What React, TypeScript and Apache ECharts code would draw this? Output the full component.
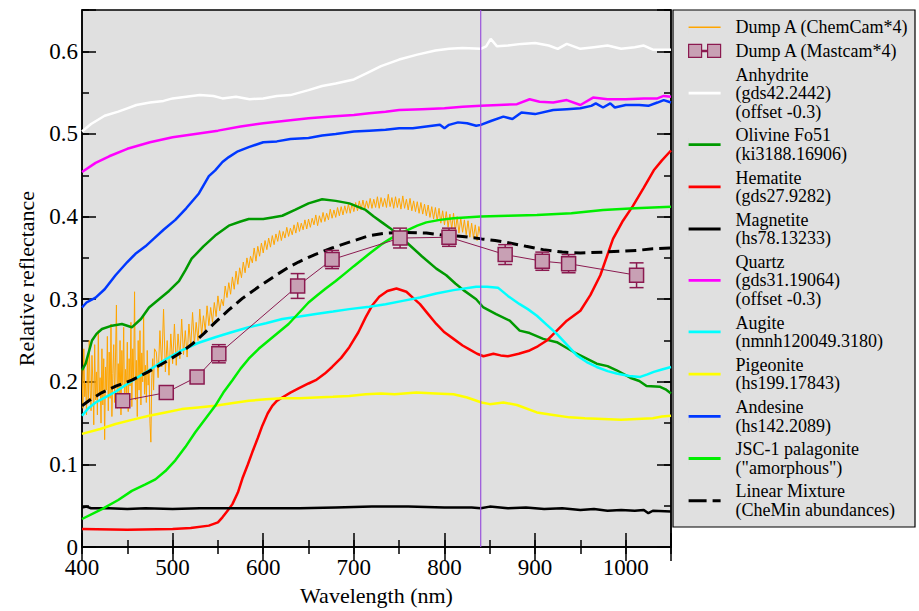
import React, { useEffect, useRef } from 'react';
import * as echarts from 'echarts';

const FONT = "'Liberation Serif'";

// ---- Data (wavelength nm, relative reflectance) ----
// ChemCam spectrum, sampled on regular wavelength grids (start, step, values)
const chemcamSegA = { start: 400, step: 1, values: [
  0.215,0.168,0.240,0.182,0.198,0.160,0.228,0.175,0.250,0.190,
  0.165,0.232,0.200,0.148,0.245,0.178,0.212,0.160,0.262,0.185,
  0.205,0.150,0.240,0.172,0.228,0.130,0.218,0.190,0.255,0.165,
  0.236,0.180,0.270,0.158,0.210,0.245,0.175,0.230,0.293,0.168,
  0.222,0.180,0.250,0.160,0.238,0.196,0.266,0.172,0.215,0.185,
  0.248,0.164,0.228,0.195,0.272,0.170,0.240,0.205,0.309,0.178,
  0.226,0.158,0.250,0.190,0.262,0.172,0.235,0.200,0.280,0.185,
  0.220,0.175,0.238,0.196,0.214,0.150,0.127,0.205,0.228,0.190,
  0.240,
] };
const chemcamSegB = { start: 482, step: 2, values: [
  0.236,0.205,0.262,0.218,0.288,0.212,0.250,0.208,0.258,0.222,
  0.270,0.220,0.258,0.228,0.276,0.233,0.262,0.230,0.270,0.242,
  0.284,0.246,0.272,0.250,0.288,0.256,0.280,0.262,0.292,0.268,
] };
const chemcamSegC = { start: 542, step: 2, values: [
  0.290,0.272,0.296,0.279,0.304,0.286,0.300,0.292,0.316,0.302,
  0.320,0.306,0.327,0.312,0.334,0.318,0.338,0.326,0.345,0.332,
  0.350,0.338,0.352,0.344,0.362,0.346,0.364,0.352,0.368,0.356,
  0.371,0.360,0.374,0.363,0.377,0.366,0.379,0.370,0.383,0.371,
  0.382,0.374,0.387,0.376,0.386,0.378,0.390,0.380,0.393,0.382,
  0.392,0.384,0.396,0.385,0.397,0.387,0.398,0.390,0.402,0.389,
  0.401,0.393,0.405,0.394,0.404,0.396,0.409,0.398,0.408,0.399,
  0.411,0.401,0.412,0.402,0.413,0.404,0.415,0.404,0.416,0.406,
  0.417,0.407,0.419,0.408,0.420,0.409,0.419,0.410,0.422,0.410,
  0.421,0.411,0.424,0.410,0.423,0.412,0.422,0.411,0.427,0.412,
  0.423,0.410,0.424,0.411,0.422,0.409,0.425,0.410,0.421,0.408,
  0.422,0.407,0.419,0.406,0.418,0.404,0.417,0.403,0.415,0.401,
  0.414,0.399,0.412,0.397,0.411,0.395,0.410,0.392,0.407,0.390,
  0.406,0.387,0.403,0.385,0.404,0.382,0.400,0.380,0.398,0.381,
  0.396,0.378,0.395,0.375,0.392,0.374,0.390,0.371,0.388,0.376,
] };

const mastcamWl = [445, 493, 527, 551, 638, 676, 751, 805, 867, 908, 937, 1012];
const mastcamR = [0.177, 0.187, 0.206, 0.234, 0.316, 0.348, 0.374, 0.375, 0.354, 0.346, 0.343, 0.329];
const mastcamErr = [0.006, 0.007, 0.007, 0.011, 0.015, 0.011, 0.012, 0.011, 0.012, 0.011, 0.011, 0.015];

const anhydrite: number[][] = [
  [400,0.503],[410,0.512],[425,0.522],[440,0.527],[450,0.531],[460,0.535],[475,0.538],[490,0.540],[500,0.543],[515,0.545],
  [530,0.547],[545,0.546],[555,0.543],[570,0.545],[585,0.542],[600,0.543],[615,0.546],[630,0.547],[650,0.553],[665,0.558],
  [680,0.561],[700,0.566],[715,0.574],[730,0.582],[750,0.590],[770,0.596],[790,0.601],[805,0.603],[820,0.604],[840,0.603],
  [846,0.606],[851,0.615],[858,0.606],[870,0.607],[885,0.609],[900,0.610],[915,0.607],[925,0.603],[935,0.609],[950,0.603],
  [965,0.605],[980,0.607],[995,0.603],[1010,0.605],[1020,0.607],[1030,0.602],[1050,0.602]
];

const quartz: number[][] = [
  [400,0.454],[415,0.465],[430,0.473],[450,0.482],[475,0.490],[500,0.496],[525,0.500],[550,0.504],[575,0.509],[600,0.513],
  [625,0.516],[650,0.519],[675,0.521],[700,0.523],[717,0.525],[735,0.527],[750,0.529],[775,0.530],[800,0.531],[820,0.533],
  [840,0.534],[860,0.535],[880,0.536],[894,0.542],[905,0.539],[920,0.538],[935,0.541],[950,0.535],[964,0.544],[980,0.542],
  [1000,0.542],[1020,0.543],[1035,0.543],[1042,0.546],[1050,0.545]
];

const andesine: number[][] = [
  [400,0.290],[405,0.296],[415,0.302],[425,0.312],[437,0.329],[450,0.345],[459,0.355],[470,0.364],[479,0.373],[490,0.384],
  [503,0.396],[515,0.410],[529,0.428],[540,0.449],[547,0.456],[555,0.466],[562,0.472],[572,0.479],[584,0.484],[600,0.490],
  [615,0.491],[630,0.494],[650,0.495],[665,0.498],[680,0.500],[700,0.503],[717,0.504],[735,0.505],[750,0.507],[765,0.507],
  [780,0.509],[795,0.511],[800,0.507],[805,0.511],[815,0.514],[825,0.513],[835,0.510],[840,0.511],[852,0.516],[865,0.521],
  [875,0.518],[885,0.526],[900,0.524],[920,0.529],[935,0.530],[950,0.531],[962,0.534],[967,0.537],[975,0.532],[983,0.537],
  [988,0.532],[1000,0.535],[1015,0.535],[1025,0.534],[1035,0.538],[1042,0.541],[1050,0.538]
];

const olivine: number[][] = [
  [400,0.214],[404,0.222],[411,0.250],[416,0.258],[422,0.264],[433,0.268],[444,0.270],[455,0.266],[465,0.276],[474,0.290],
  [485,0.300],[496,0.310],[507,0.322],[514,0.335],[521,0.349],[534,0.364],[547,0.377],[562,0.389],[575,0.394],[584,0.397],
  [600,0.397],[610,0.399],[621,0.401],[635,0.408],[650,0.416],[665,0.421],[680,0.419],[695,0.416],[713,0.408],[722,0.400],
  [731,0.393],[740,0.386],[750,0.377],[762,0.365],[775,0.352],[791,0.337],[802,0.329],[812,0.319],[821,0.311],[835,0.300],
  [843,0.290],[857,0.282],[872,0.274],[883,0.262],[894,0.259],[909,0.252],[924,0.248],[935,0.241],[946,0.234],[957,0.228],
  [968,0.222],[980,0.219],[990,0.214],[1005,0.205],[1015,0.201],[1023,0.195],[1038,0.194],[1044,0.191],[1050,0.186]
];

const hematite: number[][] = [
  [400,0.022],[450,0.021],[500,0.022],[520,0.023],[540,0.026],[550,0.030],[555,0.036],[560,0.043],[566,0.052],[572,0.066],
  [577,0.083],[583,0.100],[588,0.115],[594,0.132],[599,0.147],[605,0.162],[610,0.171],[615,0.177],[621,0.181],[630,0.187],
  [639,0.192],[650,0.198],[658,0.202],[668,0.210],[676,0.218],[686,0.229],[695,0.242],[705,0.260],[713,0.278],[720,0.292],
  [728,0.303],[737,0.310],[747,0.313],[758,0.309],[765,0.302],[773,0.294],[782,0.282],[791,0.270],[800,0.260],[810,0.252],
  [820,0.244],[828,0.239],[836,0.234],[843,0.231],[854,0.234],[862,0.232],[870,0.231],[882,0.234],[894,0.238],[903,0.243],
  [913,0.250],[924,0.262],[935,0.274],[950,0.286],[961,0.305],[972,0.329],[986,0.373],[997,0.395],[1008,0.413],[1020,0.435],
  [1031,0.456],[1040,0.468],[1050,0.480]
];

const magnetite: number[][] = [
  [400,0.048],[405,0.049],[410,0.047],[430,0.047],[450,0.046],[470,0.047],[500,0.046],[530,0.047],[560,0.047],[600,0.047],
  [640,0.047],[680,0.048],[720,0.049],[760,0.049],[800,0.048],[830,0.048],[840,0.047],[850,0.049],[870,0.047],[890,0.048],
  [910,0.046],[930,0.047],[950,0.045],[965,0.046],[980,0.044],[995,0.045],[1010,0.044],[1020,0.045],[1025,0.041],[1030,0.044],
  [1050,0.043]
];

const palagonite: number[][] = [
  [400,0.034],[422,0.046],[440,0.057],[455,0.068],[470,0.076],[481,0.082],[492,0.092],[503,0.105],[514,0.121],[525,0.139],
  [536,0.155],[547,0.171],[556,0.187],[566,0.202],[575,0.216],[584,0.228],[595,0.240],[606,0.250],[617,0.260],[628,0.270],
  [639,0.283],[650,0.296],[660,0.305],[669,0.313],[680,0.322],[690,0.331],[700,0.340],[717,0.355],[730,0.366],[740,0.373],
  [750,0.379],[758,0.383],[770,0.389],[780,0.393],[795,0.396],[810,0.398],[840,0.400],[870,0.401],[902,0.402],[940,0.404],
  [975,0.408],[1010,0.410],[1050,0.412]
];

const augite: number[][] = [
  [400,0.159],[407,0.168],[415,0.175],[425,0.181],[437,0.188],[455,0.201],[474,0.214],[492,0.227],[510,0.238],[528,0.247],
  [547,0.254],[565,0.260],[584,0.266],[603,0.271],[621,0.276],[640,0.279],[658,0.282],[677,0.285],[695,0.288],[717,0.291],
  [735,0.294],[754,0.298],[773,0.302],[791,0.307],[810,0.311],[835,0.315],[847,0.315],[859,0.314],[870,0.304],[883,0.294],
  [892,0.288],[902,0.280],[913,0.269],[924,0.258],[935,0.245],[946,0.232],[957,0.224],[968,0.218],[980,0.213],[990,0.210],
  [1004,0.207],[1016,0.206],[1024,0.209],[1031,0.212],[1040,0.215],[1050,0.218]
];

const pigeonite: number[][] = [
  [400,0.137],[420,0.143],[437,0.149],[455,0.154],[474,0.159],[492,0.163],[510,0.167],[528,0.169],[547,0.171],[565,0.174],
  [584,0.177],[603,0.179],[621,0.180],[640,0.180],[658,0.181],[677,0.182],[695,0.183],[713,0.185],[730,0.186],[745,0.185],
  [769,0.187],[790,0.186],[810,0.185],[825,0.181],[841,0.175],[850,0.173],[865,0.175],[880,0.172],[902,0.163],[920,0.160],
  [938,0.157],[955,0.156],[975,0.155],[995,0.154],[1012,0.155],[1030,0.156],[1040,0.158],[1050,0.159]
];

const linearMix: number[][] = [
  [400,0.171],[410,0.179],[422,0.187],[438,0.195],[455,0.202],[473,0.212],[492,0.224],[507,0.234],[522,0.246],[535,0.259],
  [547,0.272],[562,0.287],[577,0.301],[595,0.315],[614,0.329],[627,0.338],[639,0.345],[657,0.354],[676,0.362],[695,0.369],
  [717,0.377],[735,0.380],[754,0.381],[780,0.380],[802,0.377],[820,0.376],[841,0.373],[856,0.371],[872,0.368],[890,0.364],
  [909,0.360],[930,0.357],[950,0.356],[975,0.357],[995,0.358],[1012,0.359],[1030,0.361],[1050,0.362]
];

const detectorBoundary = 840;

const legendNames = [
  'Dump A (ChemCam*4)',
  'Dump A (Mastcam*4)',
  'Anhydrite\n(gds42.2442)\n(offset -0.3)',
  'Olivine Fo51\n(ki3188.16906)',
  'Hematite\n(gds27.9282)',
  'Magnetite\n(hs78.13233)',
  'Quartz\n(gds31.19064)\n(offset -0.3)',
  'Augite\n(nmnh120049.3180)',
  'Pigeonite\n(hs199.17843)',
  'Andesine\n(hs142.2089)',
  'JSC-1 palagonite\n("amorphous")',
  'Linear Mixture\n(CheMin abundances)',
];

const spectra = [
  { name: legendNames[2], color: '#ffffff', data: anhydrite },
  { name: legendNames[3], color: '#009a00', data: olivine },
  { name: legendNames[4], color: '#ff0000', data: hematite },
  { name: legendNames[5], color: '#000000', data: magnetite },
  { name: legendNames[6], color: '#ff00ff', data: quartz },
  { name: legendNames[7], color: '#00ffff', data: augite },
  { name: legendNames[8], color: '#ffff00', data: pigeonite },
  { name: legendNames[9], color: '#0038ff', data: andesine },
  { name: legendNames[10], color: '#00ee00', data: palagonite },
];

const MAROON = '#8b1a50';
const SQUARE_FILL = '#c8a0b4';

const segToPairs = (seg: { start: number; step: number; values: number[] }) =>
  seg.values.map((v, i) => [seg.start + i * seg.step, v]);

const LINE_ICON = 'path://M0,0h0.01v14h-0.01z M0,5.6h32v2.8h-32z';
const THIN_ICON = 'path://M0,0h0.01v14h-0.01z M0,6.3h32v1.4h-32z';
const DASH_ICON = 'path://M0,0h0.01v14h-0.01z M0,5.5h18v3h-18z M24,5.5h8v3h-8z';
const SQUARES_ICON = 'path://M0,0.5h13v13h-13z M19,0.5h13v13h-13z M13,6.4h6v1.2h-6z';

export default function App() {
  const ref = useRef<HTMLDivElement>(null);
  useEffect(() => {
    if (!ref.current) return;
    const chart = echarts.init(ref.current, undefined, { renderer: 'svg' });

    const chemcam = [...segToPairs(chemcamSegA), ...segToPairs(chemcamSegB), ...segToPairs(chemcamSegC)];

    const axisBase = (pos: string, interval: number, len: number, major: boolean, isX: boolean) => ({
      type: 'value',
      position: pos,
      min: isX ? 400 : 0,
      max: isX ? 1050 : 0.65,
      interval,
      axisLine: { show: major, lineStyle: { color: '#000', width: 1.5 } },
      axisTick: { show: true, inside: true, length: len, lineStyle: { color: '#000', width: 1.5 } },
      axisLabel: { show: false },
      splitLine: { show: false },
    });

    const xMain: any = {
      ...axisBase('bottom', 100, 14, true, true),
      name: 'Wavelength (nm)',
      nameLocation: 'middle',
      nameGap: 29,
      nameTextStyle: { fontFamily: FONT, fontSize: 22, color: '#000' },
      axisLabel: {
        show: true, fontFamily: FONT, fontSize: 23, color: '#000', margin: 9,
        formatter: (v: number) => (v % 100 === 0 ? String(v) : ''),
      },
    };
    const yMain: any = {
      ...axisBase('left', 0.1, 14, true, false),
      name: 'Relative reflectance',
      nameLocation: 'middle',
      nameGap: 45,
      nameTextStyle: { fontFamily: FONT, fontSize: 22, color: '#000' },
      axisLabel: {
        show: true, fontFamily: FONT, fontSize: 23, color: '#000', margin: 4,
        formatter: (v: number) => {
          const t = Math.round(v * 10);
          return Math.abs(v * 10 - t) < 1e-6 ? String(t / 10) : '';
        },
      },
    };

    const series: any[] = [
      {
        name: legendNames[0], type: 'line', data: chemcam, symbol: 'none', z: 2,
        lineStyle: { color: '#ffa500', width: 1 }, itemStyle: { color: '#ffa500' },
      },
      ...spectra.map((s) => ({
        name: s.name, type: 'line', data: s.data, symbol: 'none', z: 3,
        lineStyle: { color: s.color, width: 2.5 }, itemStyle: { color: s.color },
      })),
      {
        name: legendNames[11], type: 'line', data: linearMix, symbol: 'none', z: 3,
        lineStyle: { color: '#000', width: 3, type: [11, 6] }, itemStyle: { color: '#000' },
      },
      {
        name: 'detector boundary', type: 'line', symbol: 'none', z: 3,
        data: [[detectorBoundary, 0], [detectorBoundary, 0.65]],
        lineStyle: { color: '#9a52dc', width: 1.2 },
      },
      {
        name: 'Mastcam error', type: 'custom', z: 4,
        data: mastcamWl.map((w, i) => [w, mastcamR[i], mastcamErr[i]]),
        renderItem: (_p: any, api: any) => {
          const x = api.value(0), y = api.value(1), e = api.value(2);
          const top = api.coord([x, y + e]);
          const bot = api.coord([x, y - e]);
          const hw = 7;
          const st = { stroke: MAROON, lineWidth: 1.5 };
          return {
            type: 'group',
            children: [
              { type: 'line', shape: { x1: top[0], y1: top[1], x2: bot[0], y2: bot[1] }, style: st },
              { type: 'line', shape: { x1: top[0] - hw, y1: top[1], x2: top[0] + hw, y2: top[1] }, style: st },
              { type: 'line', shape: { x1: bot[0] - hw, y1: bot[1], x2: bot[0] + hw, y2: bot[1] }, style: st },
            ],
          };
        },
      },
      {
        name: legendNames[1], type: 'line', z: 5,
        data: mastcamWl.map((w, i) => [w, mastcamR[i]]),
        symbol: 'rect', symbolSize: 14, showSymbol: true,
        lineStyle: { color: MAROON, width: 1 },
        itemStyle: { color: SQUARE_FILL, borderColor: MAROON, borderWidth: 1.5 },
      },
    ];

    const legendColors: Record<number, string> = {
      0: '#ffa500', 11: '#000000',
    };
    spectra.forEach((s, i) => { legendColors[i + 2] = s.color; });

    chart.setOption({
      animation: false,
      textStyle: { fontFamily: FONT },
      grid: {
        left: 82, right: 248, top: 10, bottom: 54,
        show: true, backgroundColor: '#e0e0e0', borderColor: '#000', borderWidth: 1.5,
      },
      xAxis: [
        xMain,
        axisBase('bottom', 50, 7, false, true),
        axisBase('top', 100, 14, true, true),
        axisBase('top', 50, 7, false, true),
      ],
      yAxis: [
        yMain,
        axisBase('left', 0.05, 7, false, false),
        axisBase('right', 0.1, 14, true, false),
        axisBase('right', 0.05, 7, false, false),
      ],
      graphic: [
        {
          type: 'rect', z: 0,
          shape: { x: 673, y: 10, width: 242, height: 517 },
          style: { fill: '#e0e0e0', stroke: '#000', lineWidth: 1.2 },
        },
      ],
      legend: {
        orient: 'vertical',
        left: 688, top: 18, padding: 0, itemGap: 5.2,
        itemWidth: 32, itemHeight: 14,
        selectedMode: false, z: 10,
        textStyle: { fontFamily: FONT, fontSize: 18, lineHeight: 18.5, color: '#000', padding: [0, 0, 0, 10] },
        data: legendNames.map((n, i) => {
          if (i === 1) {
            return {
              name: n, icon: SQUARES_ICON,
              itemStyle: { color: SQUARE_FILL, borderColor: MAROON, borderWidth: 1.2 },
            };
          }
          const icon = i === 0 ? THIN_ICON : i === 11 ? DASH_ICON : LINE_ICON;
          return {
            name: n, icon,
            itemStyle: { color: legendColors[i], borderWidth: 0 },
          };
        }),
      },
      series,
    });
    return () => chart.dispose();
  }, []);
  return (
    <div
      ref={ref}
      style={{ position: 'fixed', left: 0, top: 0, width: 919, height: 611, background: '#ffffff' }}
    />
  );
}
